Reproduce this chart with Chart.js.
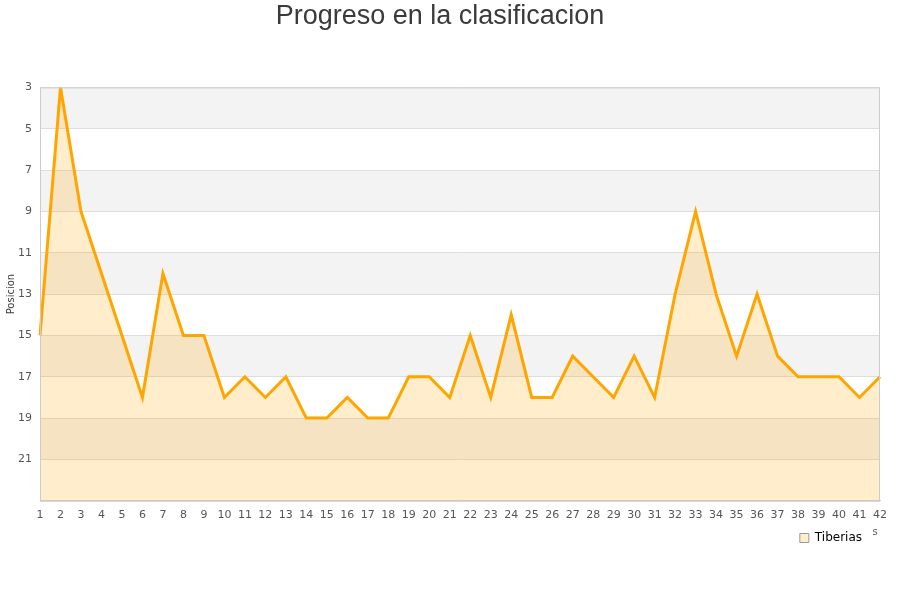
<!DOCTYPE html>
<html>
<head>
<meta charset="utf-8">
<script src="https://cdn.jsdelivr.net/npm/chart.js@4/dist/chart.umd.min.js"></script>
<style>
  html, body { margin: 0; padding: 0; background: #fff; }
</style>
</head>
<body>
<canvas id="grafico" width="900" height="600"></canvas>
<script>
// Datos
const jornadas = ["1","2","3","4","5","6","7","8","9","10","11","12","13","14","15","16","17","18","19","20","21",
                  "22","23","24","25","26","27","28","29","30","31","32","33","34","35","36","37","38","39","40","41","42"];
const posiciones = [15, 3, 9, 12, 15, 18, 12, 15, 15, 18, 17, 18, 17, 19, 19, 18, 19, 19, 17, 17, 18,
                    15, 18, 14, 18, 18, 16, 17, 18, 16, 18, 13, 9, 13, 16, 13, 16, 17, 17, 17, 18, 17];
const ticksY = [3, 5, 7, 9, 11, 13, 15, 17, 19, 21];
const minY = 3, maxY = 23;

const COLORES = {
    linea: "#ffa500",
    relleno: "rgba(255,165,0,0.2)",
    banda: "#f3f3f3",
    grid: "#dddddd",
    borde: "#cccccc",
    texto: "#555555",
    titulo: "#3a3a3a"
};

// Bandas alternas y marco del area
const bandas = {
    id: "bandas",
    afterLayout(chart) {
        // la leyenda queda algo separada del borde derecho
        if (chart.legend) chart.legend.right -= 8;
    },
    beforeDraw(chart) {
        const { ctx, chartArea: a, scales: { y } } = chart;
        ctx.save();
        ctx.fillStyle = COLORES.banda;
        const lim = ticksY.concat([maxY]);
        for (let i = 0; i < lim.length - 1; i += 2) {
            const y1 = y.getPixelForValue(lim[i]);
            const y2 = y.getPixelForValue(lim[i + 1]);
            ctx.fillRect(a.left, y1, a.right - a.left, y2 - y1);
        }
        ctx.restore();
    },
    afterDraw(chart) {
        const { ctx, chartArea: a } = chart;
        ctx.save();
        ctx.strokeStyle = COLORES.borde;
        ctx.lineWidth = 1;
        ctx.strokeRect(a.left + 0.5, a.top + 0.5, a.right - a.left - 1, a.bottom - a.top);
        // resto del titulo del eje x
        ctx.fillStyle = COLORES.texto;
        ctx.font = "10px 'DejaVu Sans'";
        ctx.textAlign = "center";
        ctx.textBaseline = "middle";
        ctx.fillText("s", a.right - 5, a.bottom + 32);
        ctx.restore();
    }
};

document.addEventListener("DOMContentLoaded", function () {
    new Chart(document.getElementById("grafico"), {
        type: "line",
        data: {
            labels: jornadas,
            datasets: [{
                label: "Tiberias",
                data: posiciones,
                borderColor: COLORES.linea,
                backgroundColor: COLORES.relleno,
                borderWidth: 3,
                pointRadius: 0,
                tension: 0,
                fill: { value: maxY }
            }]
        },
        options: {
            responsive: false,
            animation: false,
            devicePixelRatio: 1,
            layout: { padding: { left: 0, right: 20, top: 0, bottom: 46 } },
            scales: {
                x: {
                    offset: false,
                    grid: { display: false },
                    border: { display: true, color: COLORES.borde },
                    ticks: {
                        autoSkip: false,
                        maxRotation: 0,
                        padding: 0,
                        color: COLORES.texto,
                        font: { family: "'DejaVu Sans'", size: 11 }
                    }
                },
                y: {
                    reverse: true,
                    min: minY,
                    max: maxY,
                    afterBuildTicks: scale => { scale.ticks = ticksY.map(v => ({ value: v })); },
                    afterFit: scale => { scale.width = 40; },
                    grid: { color: COLORES.grid, drawTicks: false },
                    border: { display: true, color: COLORES.borde },
                    title: {
                        display: true,
                        text: "Posicion",
                        color: COLORES.titulo,
                        font: { family: "'DejaVu Sans'", size: 10 },
                        padding: { top: 5, bottom: 0 }
                    },
                    ticks: {
                        padding: 8,
                        color: COLORES.texto,
                        font: { family: "'DejaVu Sans'", size: 11 }
                    }
                }
            },
            plugins: {
                title: {
                    display: true,
                    text: "Progreso en la clasificacion",
                    color: COLORES.titulo,
                    font: { family: "'Liberation Sans'", size: 27, weight: "normal" },
                    padding: { top: 0, bottom: 55 }
                },
                legend: {
                    position: "bottom",
                    align: "end",
                    labels: {
                        boxWidth: 9,
                        boxHeight: 9,
                        padding: 10,
                        color: "#222",
                        font: { family: "'DejaVu Sans'", size: 12 },
                        generateLabels: chart => chart.data.datasets.map((ds, i) => ({
                            text: ds.label,
                            fillStyle: ds.backgroundColor,
                            strokeStyle: "#999",
                            lineWidth: 1,
                            datasetIndex: i
                        }))
                    }
                },
                tooltip: { enabled: false }
            }
        },
        plugins: [bandas]
    });
});
</script>
</body>
</html>
